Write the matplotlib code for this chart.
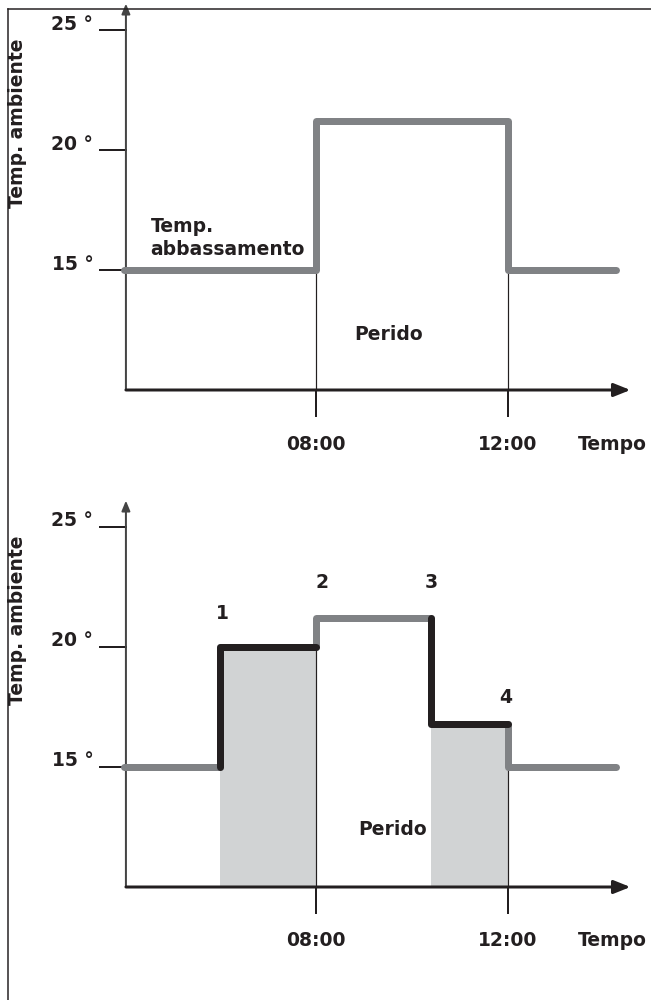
import matplotlib.pyplot as plt
from matplotlib.lines import Line2D

# data: time in hours, temperature in degrees
yticks = [15, 20, 25]
ytick_labels = ["15 °", "20 °", "25 °"]
xticks = [8, 12]
xtick_labels = ["08:00", "12:00"]

top_x = [4, 8, 12, 14.25]
top_y = [15, 21.2, 15, 15]

bot_x = [4, 6, 8, 10.4, 12, 14.25]
bot_y = [15, 20, 21.2, 16.8, 15, 15]
# parts of the bottom profile drawn in black (optimised by the function)
black1_x = [6, 6, 8]
black1_y = [15, 20, 20]
black2_x = [10.4, 10.4, 12]
black2_y = [21.2, 16.8, 16.8]
fill1_x = [6, 8]
fill1_top = 20
fill2_x = [10.4, 12]
fill2_top = 16.8
point_labels = ["1", "2", "3", "4"]
point_x = [6.05, 8.12, 10.4, 11.95]
point_y = [21.4, 22.7, 22.7, 17.9]

GREY = "#808285"
BLACK = "#231f20"
LIGHT = "#d1d3d4"
FS = 13.5
W, H = 651, 1000
PX = 72 / 100.0   # points per pixel

plt.rcParams['font.family'] = ['DejaVu Sans']
plt.rcParams['font.weight'] = 'bold'

fig = plt.figure(figsize=(W / 100, H / 100), dpi=100)


def make_axes(y15_px):
    # 48 px per hour with 08:00 at x=316, 24 px per degree
    x0, x1 = 3, 14.8
    y0, y1 = 8.5, 26
    left = 316 - (8 - x0) * 48
    right = 316 + (x1 - 8) * 48
    top = y15_px - (y1 - 15) * 24
    bottom = y15_px + (15 - y0) * 24
    ax = fig.add_axes([left / W, (H - bottom) / H, (right - left) / W, (bottom - top) / H])
    ax.set_xlim(x0, x1)
    ax.set_ylim(y0, y1)
    ax.axis('off')
    return ax


def draw_frame(ax, thin_tops):
    # y axis with arrow
    ax.annotate("", xy=(4.04, 26.1), xytext=(4.04, 10), annotation_clip=False,
                arrowprops=dict(arrowstyle="-|>,head_length=0.6,head_width=0.25",
                                color="#444444", lw=2 * PX, shrinkA=0, shrinkB=0))
    # x axis with arrow
    ax.annotate("", xy=(14.55, 10), xytext=(4.04, 10), annotation_clip=False,
                arrowprops=dict(arrowstyle="-|>,head_length=1.0,head_width=0.4",
                                color=BLACK, lw=3 * PX, shrinkA=0, shrinkB=0))
    for v, lab in zip(yticks, ytick_labels):
        ax.plot([3.5, 4.04], [v, v], color=BLACK, lw=2 * PX, clip_on=False)
        ax.text(3.36, v + 0.25, lab, ha='right', va='center', fontsize=FS,
                color=BLACK, clip_on=False)
    for t, lab, yt in zip(xticks, xtick_labels, thin_tops):
        ax.plot([t, t], [yt, 10], color=BLACK, lw=1.2 * PX, zorder=1)
        ax.plot([t, t], [10, 8.9], color=BLACK, lw=2 * PX, clip_on=False)
        ax.text(t, 7.75, lab, ha='center', va='center', fontsize=FS, color=BLACK,
                clip_on=False)
    ax.text(14.9, 7.75, "Tempo", ha='right', va='center', fontsize=FS, color=BLACK,
            clip_on=False)
    ax.text(1.79, 21.1, "Temp. ambiente", ha='center', va='center', rotation=90,
            fontsize=FS, color=BLACK, clip_on=False)


# top panel
ax1 = make_axes(270)
draw_frame(ax1, [15, 15])
ax1.step(top_x, top_y, where='post', color=GREY, lw=7 * PX,
         solid_capstyle='round', solid_joinstyle='round', zorder=3)
ax1.text(4.55, 15.45, "Temp.\nabbassamento", ha='left', va='bottom', fontsize=FS,
         color=BLACK, linespacing=1.25)
ax1.text(9.52, 12.3, "Perido", ha='center', va='center', fontsize=FS, color=BLACK)

# bottom panel
ax2 = make_axes(767)
ax2.fill_between(fill1_x, 10, fill1_top, color=LIGHT, lw=0, zorder=0)
ax2.fill_between(fill2_x, 10, fill2_top, color=LIGHT, lw=0, zorder=0)
draw_frame(ax2, [20, 15])
ax2.step(bot_x, bot_y, where='post', color=GREY, lw=7 * PX,
         solid_capstyle='round', solid_joinstyle='round', zorder=3)
for bx, by in [(black1_x, black1_y), (black2_x, black2_y)]:
    ax2.plot(bx, by, color=BLACK, lw=7 * PX, solid_capstyle='round',
             solid_joinstyle='round', zorder=4)
for lab, px, py in zip(point_labels, point_x, point_y):
    ax2.text(px, py, lab, ha='center', va='center', fontsize=FS, color=BLACK)
ax2.text(9.6, 12.4, "Perido", ha='center', va='center', fontsize=FS, color=BLACK)

# outer frame (left and top edges)
fig.add_artist(Line2D([8 / W, 8 / W], [0, 1 - 9 / H], color=BLACK, lw=1.5 * PX))
fig.add_artist(Line2D([8 / W, 1], [1 - 9 / H, 1 - 9 / H], color=BLACK, lw=1.5 * PX))

fig.savefig("out.png", dpi=100)
